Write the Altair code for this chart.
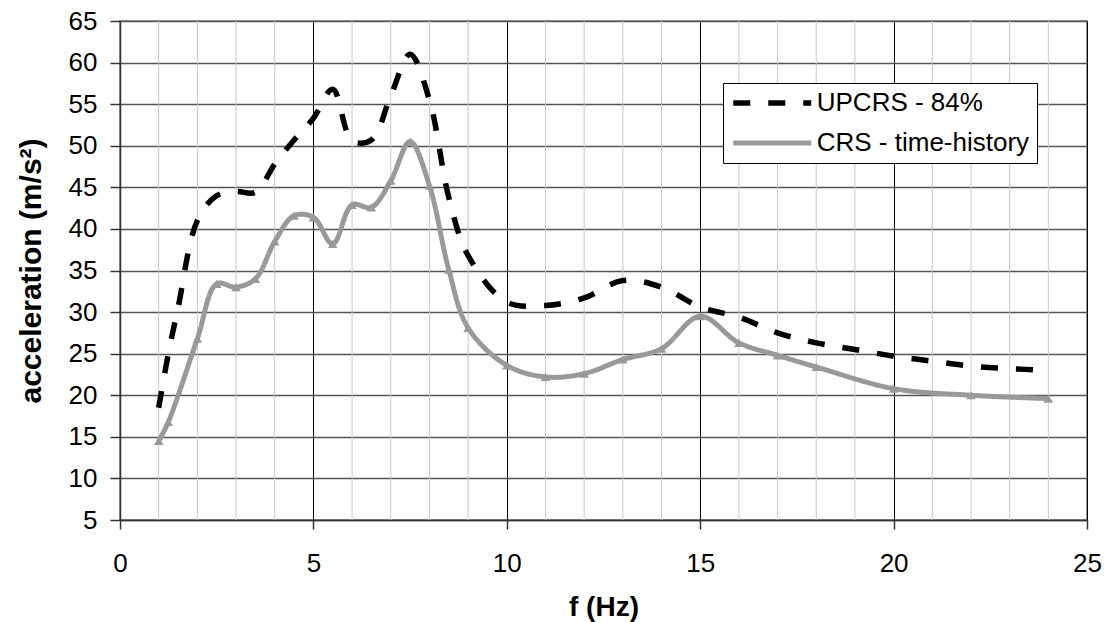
import altair as alt
import pandas as pd

# ---- data ----
crs_f = [1, 1.25, 2, 2.5, 3, 3.5, 4, 4.5, 5, 5.5, 6, 6.5, 7, 7.5, 8, 8.5, 9,
         10, 11, 12, 13, 14, 15, 16, 17, 18, 20, 22, 24]
crs_a = [14.5, 16.8, 26.8, 33.4, 33.0, 34.0, 38.5, 41.6, 41.4, 38.2, 42.9, 42.6,
         45.8, 50.5, 45.2, 35.1, 28.1, 23.6, 22.2, 22.6, 24.3, 25.6, 29.5, 26.3,
         24.8, 23.4, 20.8, 20.0, 19.6]

up_f = [1, 1.25, 1.5, 2, 2.5, 3, 3.5, 4, 4.5, 5, 5.5, 6, 6.5, 7, 7.5, 8, 8.5, 9,
        10, 11, 12, 13, 14, 15, 16, 17, 18, 19, 20, 21, 22, 23, 24]
up_a = [18.5, 25.0, 30.5, 41.0, 44.0, 44.5, 44.4, 47.8, 50.7, 53.3, 56.8, 50.6,
        50.7, 56.0, 61.0, 55.5, 43.8, 36.8, 31.2, 30.8, 31.7, 33.8, 33.0, 30.6,
        29.4, 27.5, 26.3, 25.5, 24.7, 24.1, 23.5, 23.2, 23.0]

series_names = ["UPCRS - 84%", "CRS - time-history"]
series_colors = ["#000000", "#999999"]

x_major = [0, 5, 10, 15, 20, 25]
x_minor = [1, 2, 3, 4, 6, 7, 8, 9, 11, 12, 13, 14, 16, 17, 18, 19, 21, 22, 23, 24]
y_ticks = [5, 10, 15, 20, 25, 30, 35, 40, 45, 50, 55, 60, 65]

df = pd.concat([
    pd.DataFrame({"f": up_f, "a": up_a, "series": series_names[0]}),
    pd.DataFrame({"f": crs_f, "a": crs_a, "series": series_names[1]}),
], ignore_index=True)
minor_df = pd.DataFrame({"f": x_minor})

FONT = "Liberation Sans"

x_scale = alt.Scale(domain=[0, 25], nice=False, zero=False)
y_scale = alt.Scale(domain=[5, 65], nice=False, zero=False)

x_enc = alt.X(
    "f:Q",
    scale=x_scale,
    axis=alt.Axis(
        values=x_major,
        title="f (Hz)",
        titleFont=FONT, titleFontSize=28, titleFontWeight="bold", titleColor="#000",
        titleY=87, titleBaseline="middle",
        labelFont=FONT, labelFontSize=26, labelColor="#000", labelPadding=21,
        labelFlush=False, labelOverlap=False,
        grid=True, gridColor="#000000", gridWidth=1,
        tickSize=9, tickColor="#333", tickWidth=1.5,
        domainColor="#333", domainWidth=1.5,
    ),
)

y_enc = alt.Y(
    "a:Q",
    scale=y_scale,
    axis=alt.Axis(
        values=y_ticks,
        title="acceleration (m/s²)",
        titleFont=FONT, titleFontSize=30, titleFontWeight="bold", titleColor="#000",
        titleX=-89, titleBaseline="middle",
        labelFont=FONT, labelFontSize=26, labelColor="#000", labelPadding=13,
        labelOverlap=False,
        grid=True, gridColor="#555555", gridWidth=1.5,
        tickSize=10, tickColor="#333", tickWidth=1.5,
        domainColor="#333", domainWidth=1.5,
    ),
)

legend_props = dict(
    orient="none", legendX=603, legendY=62, title=None,
    fillColor="white", strokeColor="#000000", padding=7,
    symbolType="M-4,0H4", symbolSize=380, symbolStrokeWidth=5,
    symbolOffset=29.25,
    labelFont=FONT, labelFontSize=26, labelColor="#000", labelOffset=31.5,
    rowPadding=14, labelLimit=400,
)

minor_grid = alt.Chart(minor_df).mark_rule(color="#c8c8c8", strokeWidth=1).encode(
    x=alt.X("f:Q", scale=x_scale)
)

lines = alt.Chart(df).mark_line(interpolate="catmull-rom", strokeCap="butt").encode(
    x=x_enc,
    y=y_enc,
    color=alt.Color("series:N", scale=alt.Scale(domain=series_names, range=series_colors),
                    legend=alt.Legend(**legend_props)),
    strokeDash=alt.StrokeDash("series:N", scale=alt.Scale(domain=series_names, range=[[17, 18], [1, 0]]),
                              legend=alt.Legend(**legend_props)),
    strokeWidth=alt.StrokeWidth("series:N", scale=alt.Scale(domain=series_names, range=[5.5, 5]), legend=None),
    order="f:Q",
)

points = alt.Chart(df).transform_filter(
    alt.datum.series == series_names[1]
).mark_point(shape="triangle-up", filled=True, size=90, opacity=1, color=series_colors[1]).encode(
    x="f:Q", y="a:Q"
)

chart = alt.layer(minor_grid, lines, points).properties(
    width=967, height=499,
    autosize=alt.AutoSizeParams(type="none"),
    padding={"left": 120, "top": 21, "right": 22, "bottom": 102},
    background="white",
).configure_view(
    stroke="#999999", strokeWidth=2
)

chart.save("out.html", embed_options={"renderer": "svg", "actions": False})
